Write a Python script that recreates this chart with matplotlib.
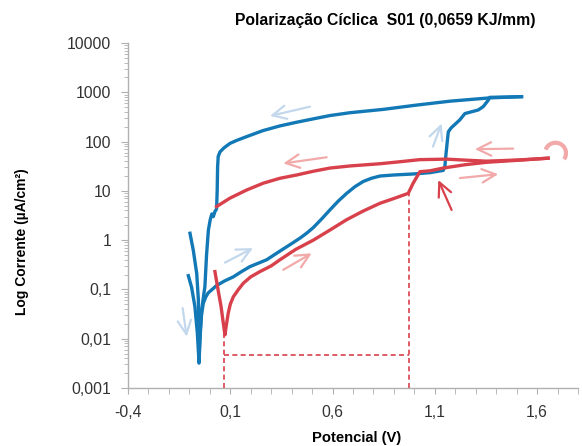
import matplotlib
matplotlib.use('Agg')
import matplotlib.pyplot as plt
from matplotlib.patches import Arc
from matplotlib.transforms import ScaledTranslation

# curve data (potential in V, current in uA/cm2)
blue_fwd_v = [-0.105, -0.089, -0.073, -0.061, -0.053, -0.048, -0.040, -0.032, -0.020, -0.008, 0.033,
              0.074, 0.115, 0.155, 0.196, 0.278, 0.343, 0.400, 0.441, 0.475, 0.506, 0.547, 0.587, 0.628,
              0.669, 0.710, 0.750, 0.790, 0.832, 0.900, 0.994, 1.076, 1.141,
              1.149, 1.155, 1.166, 1.180, 1.222, 1.247, 1.312, 1.337, 1.361, 1.369, 1.450, 1.524]
blue_fwd_i = [0.19, 0.11, 0.045, 0.013, 0.0035, 0.013, 0.032, 0.052, 0.07, 0.085, 0.12,
              0.15, 0.18, 0.23, 0.29, 0.40, 0.60, 0.85, 1.1, 1.4, 1.8, 2.7, 4.1, 6.2,
              8.9, 12.2, 15.5, 18, 20, 21, 22, 23.4, 26,
              31, 58, 158, 190, 275, 370, 437, 513, 690, 790, 800, 815]

blue_rev_v = [1.524, 1.369, 1.174, 1.011, 0.848, 0.685, 0.587, 0.506, 0.425, 0.343, 0.260, 0.180,
              0.130, 0.099, 0.070, 0.050, 0.041, 0.038, 0.036, 0.033, 0.025, 0.017, 0.010, 0.002,
              -0.007, -0.016, -0.024, -0.040, -0.048, -0.053, -0.056, -0.064, -0.081, -0.097]
blue_rev_i = [815, 770, 660, 550, 450, 385, 337, 289, 247, 208, 167, 126,
              105, 92, 75, 62, 50, 30, 10, 4.3, 3.8, 3.0, 3.4, 2.6,
              1.6, 0.5, 0.115, 0.038, 0.0095, 0.0032, 0.062, 0.21, 0.63, 1.38]

red_fwd_v = [0.025, 0.040, 0.055, 0.065, 0.074, 0.080, 0.090, 0.100, 0.115, 0.140, 0.164, 0.200,
             0.245, 0.300, 0.343, 0.420, 0.506, 0.587, 0.669, 0.750, 0.832, 0.900, 0.970, 0.994,
             1.027, 1.076, 1.141, 1.250, 1.353, 1.516, 1.654]
red_fwd_i = [0.23, 0.10, 0.045, 0.022, 0.012, 0.018, 0.033, 0.05, 0.071, 0.10, 0.134, 0.18,
             0.23, 0.30, 0.40, 0.65, 1.0, 1.6, 2.6, 3.9, 5.6, 7.0, 8.9, 14.3,
             24.5, 25.5, 29, 34, 38, 42, 46]

red_rev_v = [1.654, 1.516, 1.353, 1.250, 1.157, 1.027, 0.930, 0.832, 0.685, 0.587, 0.506, 0.425,
             0.343, 0.261, 0.180, 0.098, 0.033]
red_rev_i = [46, 42.5, 40, 42, 44, 43, 39, 35.5, 32, 29, 25, 21,
             18, 14.3, 10.4, 7.1, 4.8]

e_corr = 0.069
i_corr = 0.0046
e_pit = 0.975
i_pit = 8.9

y_ticks = [0.001, 0.01, 0.1, 1, 10, 100, 1000, 10000]
y_labels = ['0,001', '0,01', '0,1', '1', '10', '100', '1000', '10000']
x_ticks = [-0.4, 0.1, 0.6, 1.1, 1.6]
x_labels = ['-0,4', '0,1', '0,6', '1,1', '1,6']

# direction arrows: (tail, head) in data coordinates
blue_arrows = [((0.490, 511), (0.294, 331)), ((1.091, 79), (1.133, 233)),
               ((0.074, 0.35), (0.211, 0.69)), ((-0.133, 0.042), (-0.113, 0.011))]
red_arrows = [((0.571, 48), (0.359, 36)), ((0.359, 0.25), (0.498, 0.54)),
              ((1.483, 72), (1.296, 70)), ((1.223, 18.2), (1.410, 21.8))]
dark_arrow = ((1.182, 4.1), (1.117, 16.6))

blue = '#1279b6'
red = '#d8414b'
light_blue = '#c3d8ec'
light_red = '#f2a9a9'
gray = '#b0b0b0'
font = 'Liberation Sans'
arrow_style = '->,head_length=0.45,head_width=0.22'

fig = plt.figure(figsize=(5.82, 4.46), dpi=100)
ax = fig.add_axes([128 / 582, 58 / 446, 450 / 582, 345 / 446])

ax.plot(blue_fwd_v, blue_fwd_i, color=blue, lw=2.4, solid_joinstyle='round', zorder=3)
ax.plot(blue_rev_v, blue_rev_i, color=blue, lw=2.4, solid_joinstyle='round', zorder=3)
ax.plot(red_fwd_v, red_fwd_i, color=red, lw=2.4, solid_joinstyle='round', zorder=4)
ax.plot(red_rev_v, red_rev_i, color=red, lw=2.4, solid_joinstyle='round', zorder=4)

dash = dict(color=red, lw=1.2, ls=(0, (3, 2)), zorder=2)
ax.plot([e_corr, e_corr], [0.001, 0.012], **dash)
ax.plot([e_corr, e_pit], [i_corr, i_corr], **dash)
ax.plot([e_pit, e_pit], [0.001, i_pit], **dash)


def arrow(tail, head, color):
    ax.annotate('', xy=head, xytext=tail,
                arrowprops=dict(arrowstyle=arrow_style, color=color, lw=1.6,
                                mutation_scale=22, shrinkA=0, shrinkB=0))


for tail, head in blue_arrows:
    arrow(tail, head, light_blue)
for tail, head in red_arrows:
    arrow(tail, head, light_red)
arrow(dark_arrow[0], dark_arrow[1], red)

arc_tr = fig.dpi_scale_trans + ScaledTranslation(1.69, 58, ax.transData)
ax.add_patch(Arc((0, 0), 0.21, 0.21, theta1=-35, theta2=160, color=light_red, lw=3,
                 transform=arc_tr, clip_on=False))

ax.set_yscale('log')
ax.set_xlim(-0.4, 1.8)
ax.set_ylim(0.001, 10000)
ax.set_yticks(y_ticks)
ax.set_yticklabels(y_labels)
ax.set_xticks(x_ticks)
ax.set_xticklabels(x_labels)
ax.set_xticks([round(-0.4 + 0.1 * k, 1) for k in range(23)], minor=True)

for s in ['top', 'right']:
    ax.spines[s].set_visible(False)
for s in ['left', 'bottom']:
    ax.spines[s].set_color(gray)
    ax.spines[s].set_linewidth(1.0)
ax.tick_params(which='both', color=gray, labelcolor='#333333', labelsize=11.3)
ax.tick_params(axis='y', which='major', length=5, pad=7)
ax.tick_params(axis='y', which='minor', length=3)
ax.tick_params(axis='x', which='both', length=4, pad=8)
for lab in ax.get_xticklabels() + ax.get_yticklabels():
    lab.set_fontfamily(font)

fig.text(385 / 582, 1 - 20 / 446, 'Polarização Cíclica  S01 (0,0659 KJ/mm)', ha='center', va='center',
         fontsize=11.3, fontweight='bold', family=font)
fig.text(357 / 582, 1 - 438 / 446, 'Potencial (V)', ha='center', va='center',
         fontsize=10.6, fontweight='bold', family=font)
fig.text(22 / 582, 1 - 242 / 446, 'Log Corrente (µA/cm²)', ha='center', va='center', rotation=90,
         fontsize=10, fontweight='bold', family=font)

fig.savefig('out.png', dpi=100)
